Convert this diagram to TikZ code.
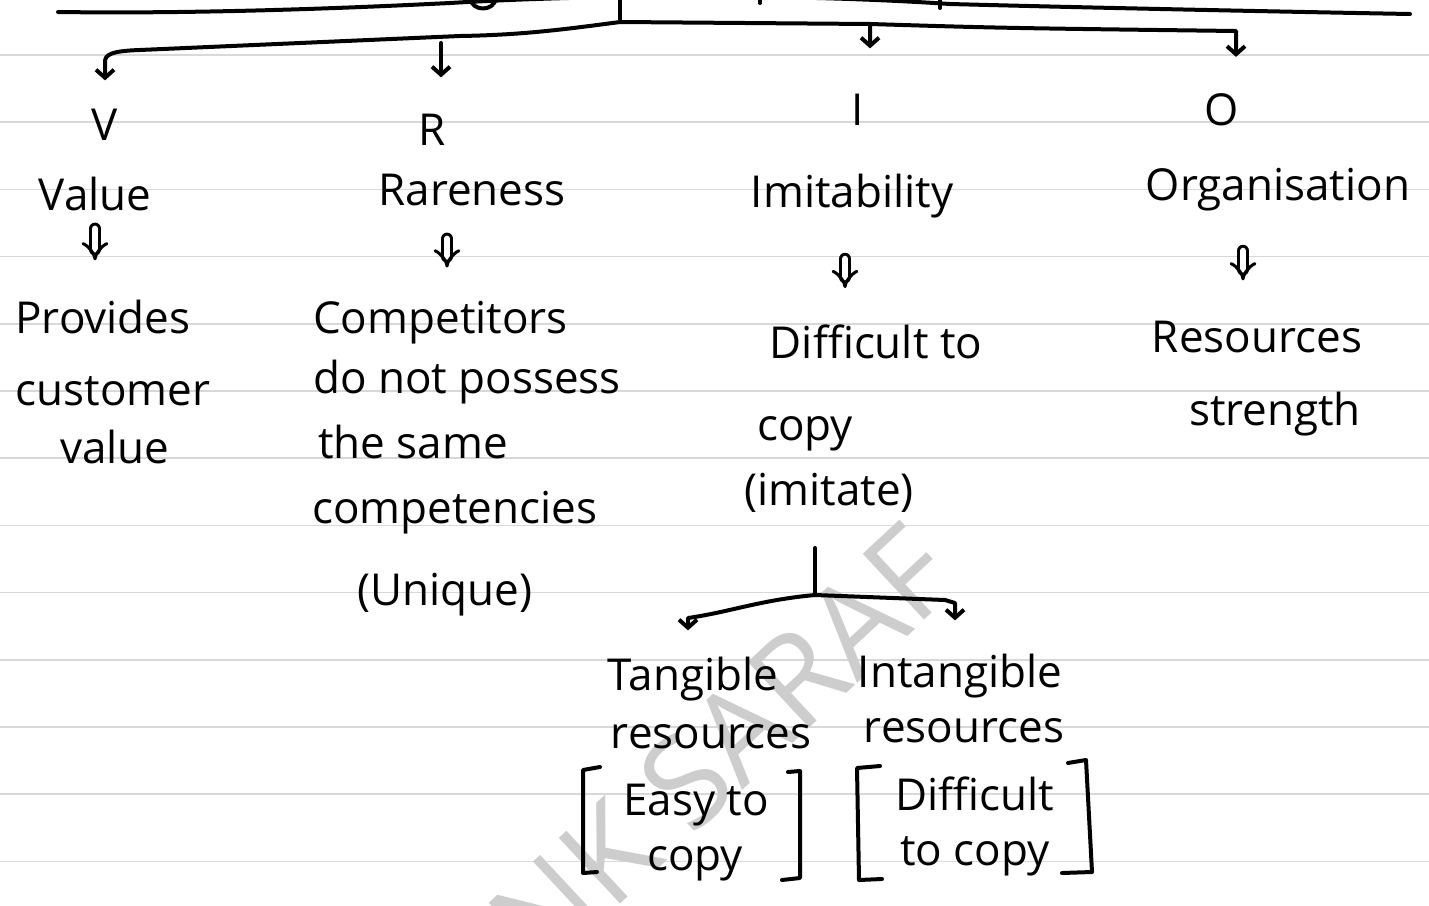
\documentclass[tikz,border=0pt]{standalone}
\usepackage{fontspec}
\setmainfont{Open Sans}
\usetikzlibrary{arrows.meta,calc}
\definecolor{rulegray}{RGB}{216,216,216}
\definecolor{wmgray}{RGB}{205,205,205}
\begin{document}
\begin{tikzpicture}[x=1pt,y=-1pt,
  ink/.style={line width=4pt, line cap=round, line join=round, black},
  arr/.style={ink, -{Straight Barb[length=8pt,width=18pt]}},
  dbl/.style={line width=3pt, double distance=6pt, line cap=round, -{Implies}},
  txt/.style={anchor=base, inner sep=0pt, font=\fontsize{44}{52}\selectfont},
  ltxt/.style={txt, anchor=base west},
  wmtext/.style={inner sep=0pt, text=wmgray, font=\fontsize{126}{130}\selectfont},
  ruling/.style={line width=1.6pt, rulegray}
]
% page and ruling
\fill[white] (0,0) rectangle (1429,905);
\useasboundingbox (0,0) rectangle (1429,905);
\clip (0,0) rectangle (1429,905);
\foreach \k [evaluate=\k as \yy using 55+67.2*\k] in {0,...,12}
  \draw[ruling] (0,\yy) -- (1429,\yy);

% watermark
\node[wmtext, rotate=43] (wm) at (722,748) {NK SARAF};

% tail of the previous line of notes
\draw[ink] (58,12) .. controls (200,14) and (350,8) .. (450,3)
  .. controls (600,-6) and (800,-6) .. (950,4)
  .. controls (1100,8) and (1300,12) .. (1410,14);
\draw[ink] (470,-2) .. controls (472,12) and (494,12) .. (496,-2);
\draw[ink] (940,-2) -- (940,8);
\draw[ink] (760,-2) -- (760,3);

% VRIO letters and headings
\node[txt] (vl) at (105,140) {V};
\node[txt] (rl) at (432,145) {R};
\node[txt] (il) at (858,125) {I};
\node[txt] (ol) at (1222,125) {O};
\node[txt] (value) at (95,210) {Value};
\node[txt] (rare) at (472,205) {Rareness};
\node[txt] (imit) at (852,207) {Imitability};
\node[txt] (org) at (1278,200) {Organisation};

% explanations
\node[txt] (prov1) at (103,333) {Provides};
\node[txt] (prov2) at (113,405) {customer};
\node[txt] (prov3) at (115,463) {value};

\node[ltxt] (comp1) at (313,333) {Competitors};
\node[ltxt] (comp2) at (313,393) {do not possess};
\node[ltxt] (comp3) at (318,458) {the same};
\node[ltxt] (comp4) at (312,523) {competencies};
\node[txt] (comp5) at (445,605) {(Unique)};

\node[txt] (diff1) at (876,358) {Difficult to};
\node[ltxt] (diff2) at (757,440) {copy};
\node[txt] (diff3) at (829,505) {(imitate)};

\node[txt] (res1) at (1257,352) {Resources};
\node[txt] (res2) at (1275,425) {strength};

% resource types
\node[txt] (tan1) at (693,690) {Tangible};
\node[txt] (tan2) at (711,748) {resources};
\node[txt] (int1) at (960,687) {Intangible};
\node[txt] (int2) at (964,742) {resources};
\node[txt] (easy1) at (696,815) {Easy to};
\node[txt] (easy2) at (695,870) {copy};
\node[txt] (hard1) at (975,810) {Difficult};
\node[txt] (hard2) at (975,865) {to copy};

% brackets
\draw[ink] (600,767) -- (583,770) -- (583,873) -- (597,872);
\draw[ink] (788,772) -- (800,771) -- (800,878) -- (782,880);
\draw[ink] (880,766) -- (857,768) -- (859,880) -- (882,879);
\draw[ink] (1068,763) -- (1086,760) -- (1092,872) -- (1062,873);

% top branching
\coordinate (root) at (620,22);
\coordinate (jI) at (870,24);
\coordinate (jO) at (1236,31);
\coordinate (rtop) at (441,43);
\draw[ink] (620,-2) -- (root);
\draw[arr, shorten >=28pt] (root) .. controls (560,30) and (520,35) .. (460,36)
  -- (140,50) .. controls (110,51) and (105,55) .. (105,62) -- (vl.north);
\draw[arr, shorten >=36pt] (rtop) -- (rtop |- rl.north);
\draw[arr, shorten >=45pt] (root) -- (jI) -- (jI |- il.north);
\draw[arr, shorten >=36pt] (jI) .. controls (1000,28) .. (jO) -- (jO |- ol.north);

% from headings to explanations
\draw[dbl, shorten <=18pt, shorten >=39pt] (value.south) -- (value.south |- prov1.north);
\draw[dbl, shorten <=33pt, shorten >=33pt] ([xshift=-25pt]rare.south) -- ([xshift=-25pt]rare.south |- comp1.north);
\draw[dbl, shorten <=41pt, shorten >=36pt] ([xshift=-7pt]imit.south) -- ([xshift=-7pt]imit.south |- diff1.north);
\draw[dbl, shorten <=40pt, shorten >=40pt] ([xshift=-35pt]org.south) -- ([xshift=-35pt]org.south |- res1.north);

% split into tangible and intangible
\coordinate (stemtop) at (815,548);
\coordinate (sub) at (815,595);
\coordinate (jT) at (688,618);
\coordinate (jN) at (955,603);
\draw[ink] (stemtop) -- (sub);
\draw[arr, shorten >=26pt] (sub) .. controls (760,600) and (730,612) .. (jT) -- (jT |- tan1.north);
\draw[arr, shorten >=33pt] (sub) -- (945,600) -- (jN) -- (jN |- int1.north);
\end{tikzpicture}
\end{document}
